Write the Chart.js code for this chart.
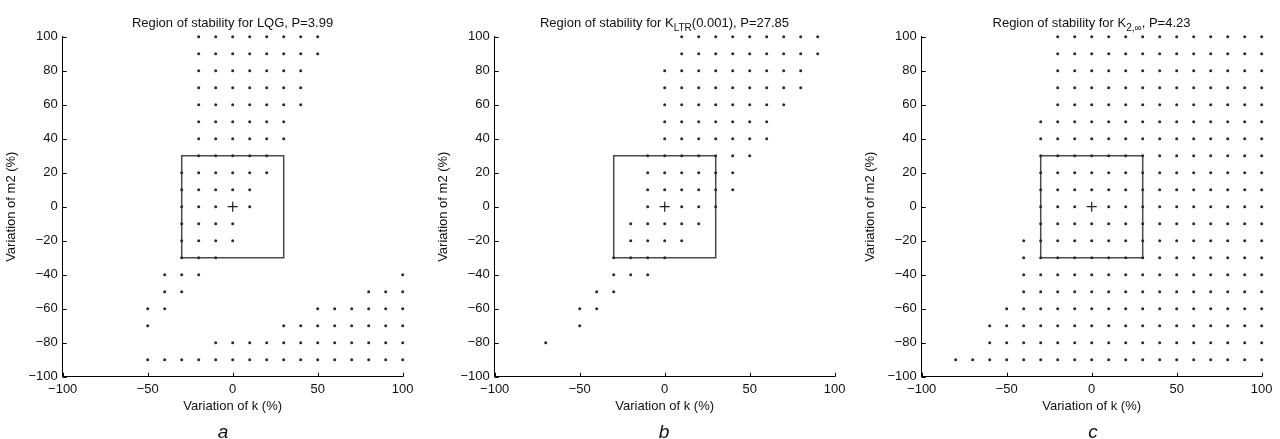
<!DOCTYPE html>
<html>
<head>
<meta charset="utf-8">
<script src="https://cdn.jsdelivr.net/npm/chart.js@4.4.1/dist/chart.umd.min.js"></script>
<style>
  html, body { margin: 0; padding: 0; background: #fff; }
  body { width: 1280px; height: 439px; position: relative; overflow: hidden; font-family: "Liberation Sans", Arial, sans-serif; }
  .panel { position: absolute; top: 0; width: 421px; height: 439px; }
  .panel canvas { position: absolute; left: 0; top: 0; }
  .ttl { position: absolute; top: 15px; left: 0; width: 465px; margin-left: 0; text-align: center; font-size: 13px; line-height: 16px; color: #111; white-space: nowrap; }
  .ttl sub { font-size: 10px; vertical-align: -4px; line-height: 0; }
  .tag { position: absolute; top: 421px; font-size: 19px; font-style: italic; color: #111; width: 40px; text-align: center; }
</style>
</head>
<body>
<div class="panel" id="p0" style="left:0px"><canvas id="c0"></canvas></div>
<div class="panel" id="p1" style="left:432px"><canvas id="c1"></canvas></div>
<div class="panel" id="p2" style="left:859px"><canvas id="c2"></canvas></div>

<div class="ttl" style="left:0px">Region of stability for LQG, P=3.99</div>
<div class="ttl" style="left:432px">Region of stability for K<sub>LTR</sub>(0.001), P=27.85</div>
<div class="ttl" style="left:859px">Region of stability for K<sub>2,&infin;</sub>, P=4.23</div>

<div class="tag" style="left:203px">a</div>
<div class="tag" style="left:644px">b</div>
<div class="tag" style="left:1073px">c</div>

<script>
// m2 variation levels (rows), top to bottom
const yLevels = [100, 90, 80, 70, 60, 50, 40, 30, 20, 10, 0, -10, -20, -30, -40, -50, -60, -70, -80, -90];

function span(a, b) {
    const out = [];
    for (let v = a; v <= b; v += 10) out.push(v);
    return out;
}

// stable k values per row, LQG
const lqgRows = [
    span(-20, 50), span(-20, 50), span(-20, 40), span(-20, 40), span(-20, 40),
    span(-20, 30), span(-20, 30), span(-20, 20), span(-30, 20), span(-30, 10),
    [-30, -20, -10, 10], span(-30, 0), span(-30, 0), span(-30, -10),
    [-40, -30, -20, 100], [-40, -30, 80, 90, 100], [-50, -40, 50, 60, 70, 80, 90, 100],
    [-50, 30, 40, 50, 60, 70, 80, 90, 100], span(-10, 100), span(-50, 100)
];

// K_LTR(0.001)
const ltrRows = [
    span(10, 90), span(10, 90), span(0, 80), span(0, 80), span(0, 70),
    span(0, 60), span(0, 60), span(-10, 50), span(-10, 40), span(-10, 40),
    [-10, 10, 20, 30], span(-20, 20), span(-20, 10), span(-30, 0),
    [-30, -20, -10], [-40, -30], [-50, -40], [-50], [-70], []
];

// K_2,inf
const k2Rows = [
    span(-20, 100), span(-20, 100), span(-20, 100), span(-20, 100), span(-20, 100),
    span(-30, 100), span(-30, 100), span(-30, 100), span(-30, 100), span(-30, 100),
    [-30, -20, -10, 10, 20, 30, 40, 50, 60, 70, 80, 90, 100], span(-30, 100),
    span(-40, 100), span(-40, 100), span(-40, 100), span(-40, 100),
    span(-50, 100), span(-60, 100), span(-60, 100), span(-80, 100)
];

// nominal uncertainty box and nominal point
const boxX = [-30, 30, 30, -30, -30];
const boxY = [-30, -30, 30, 30, -30];
const nominal = [0, 0];

const xTicksStep = 50;
const yTicksStep = 20;

function toPoints(rows) {
    const pts = [];
    rows.forEach((xs, i) => xs.forEach((x) => pts.push({ x, y: yLevels[i] })));
    return pts;
}

const fontFam = '"Liberation Sans", Arial, sans-serif';
const minus = (v) => String(v).replace('-', '\u2212');

const inwardTicks = {
    id: 'inwardTicks',
    afterDatasetsDraw(chart) {
        const { ctx, chartArea: a, scales: { x, y } } = chart;
        ctx.save();
        ctx.strokeStyle = '#000';
        ctx.lineWidth = 1;
        ctx.beginPath();
        x.ticks.forEach((t) => {
            const px = Math.round(x.getPixelForValue(t.value)) + 0.5;
            ctx.moveTo(px, a.bottom);
            ctx.lineTo(px, a.bottom - 4);
        });
        y.ticks.forEach((t) => {
            const py = Math.round(y.getPixelForValue(t.value)) + 0.5;
            ctx.moveTo(a.left, py);
            ctx.lineTo(a.left + 4, py);
        });
        ctx.stroke();
        ctx.restore();
    }
};

function makeChart(id, rows) {
    const boxPts = boxX.map((x, i) => ({ x, y: boxY[i] }));
    return new Chart(document.getElementById(id), {
        type: 'scatter',
        data: {
            datasets: [
                {
                    data: toPoints(rows),
                    pointRadius: 1.5,
                    pointBackgroundColor: '#2a2a2a',
                    pointBorderWidth: 0,
                    clip: false
                },
                {
                    data: boxPts,
                    showLine: true,
                    borderColor: '#4a4a4a',
                    borderWidth: 1.5,
                    pointRadius: 0,
                    fill: false,
                    clip: false
                },
                {
                    data: [{ x: nominal[0], y: nominal[1] }],
                    pointStyle: 'cross',
                    pointRadius: 5,
                    borderColor: '#222',
                    borderWidth: 1.2
                }
            ]
        },
        options: {
            responsive: true,
            maintainAspectRatio: false,
            animation: false,
            layout: { padding: { left: 0, top: 36.7, right: 18.3, bottom: 24.5 } },
            plugins: { legend: { display: false }, tooltip: { enabled: false } },
            scales: {
                x: {
                    type: 'linear', min: -100, max: 100,
                    afterFit: (s) => { s.height = 37.8; },
                    grid: { display: false, drawTicks: false },
                    border: { display: true, color: '#000', width: 1 },
                    ticks: { stepSize: xTicksStep, padding: 5, color: '#111', font: { family: fontFam, size: 13 }, callback: minus, maxRotation: 0 },
                    title: { display: true, text: 'Variation of k (%)', color: '#111', padding: { top: 0, bottom: 0 }, font: { family: fontFam, size: 13, lineHeight: 1.2 } }
                },
                y: {
                    type: 'linear', min: -100, max: 100,
                    afterFit: (s) => { s.width = 62.7; },
                    grid: { display: false, drawTicks: false },
                    border: { display: true, color: '#000', width: 1 },
                    ticks: { stepSize: yTicksStep, padding: 5, color: '#111', font: { family: fontFam, size: 13 }, callback: minus },
                    title: { display: true, text: 'Variation of m2 (%)', color: '#111', padding: { top: 4, bottom: 0 }, font: { family: fontFam, size: 13, lineHeight: 1.2 } }
                }
            }
        },
        plugins: [inwardTicks]
    });
}

makeChart('c0', lqgRows);
makeChart('c1', ltrRows);
makeChart('c2', k2Rows);
</script>
</body>
</html>
